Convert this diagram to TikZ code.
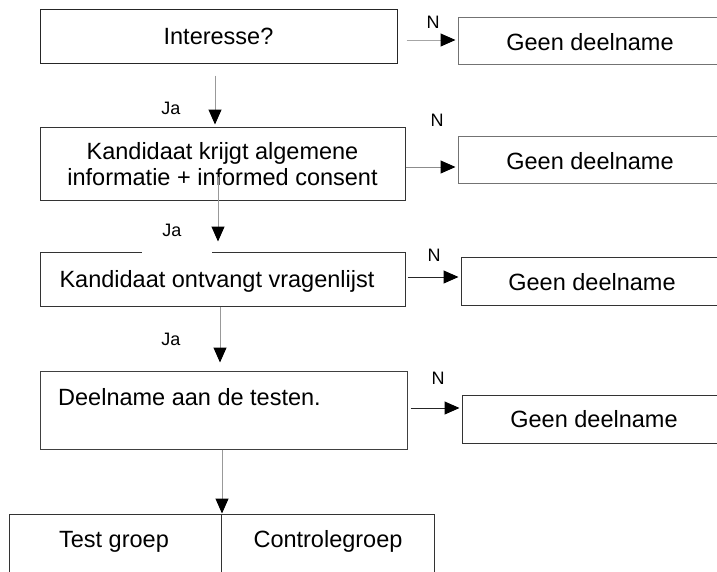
\documentclass[tikz,border=0pt]{standalone}
\usepackage{fontspec}
\setmainfont{Liberation Sans}
\usetikzlibrary{arrows.meta,positioning}
\begin{document}
\begin{tikzpicture}[x=1pt,y=-1pt,
  box/.style={draw=#1,line width=1pt,inner sep=0pt,font=\fontsize{23.5}{26}\selectfont,text depth=0pt},
  box/.default={black!80},
  txt/.style={inner sep=0pt,font=\fontsize{23.5}{26}\selectfont},
  lbl/.style={inner sep=0pt,font=\fontsize{18}{20}\selectfont},
  arr/.style={draw=#1,line width=1pt,-{Triangle[length=15pt,width=13pt,color=black]}},
  arr/.default={black!40}]
\useasboundingbox (0,0) rectangle (717,571);

% main column
\node[box={black!85},minimum width=357pt,minimum height=54pt] (b1) at (218.5,36) {Interesse?};
\node[box={black!80},minimum width=365pt,minimum height=73pt,align=center] (b2) at (222.5,163.5)
  {Kandidaat krijgt algemene\\informatie + informed consent};
\node[box={black!80},minimum width=365pt,minimum height=54pt] (b3) at (222.5,279) {};
\node[txt,anchor=base] at (217,287) {Kandidaat ontvangt vragenlijst};
\node[box={black!75},minimum width=367pt,minimum height=78pt] (b4) at (223.5,410) {};
\node[txt,anchor=base west] at (58,405) {Deelname aan de testen.};

% split box at the bottom
\node[box={black!80},minimum width=212pt,minimum height=106pt] (c1) at (115,567) {};
\node[box={black!80},minimum width=213pt,minimum height=106pt] (c2) at (327.5,567) {};
\node[txt,anchor=base] at (114,547) {Test groep};
\node[txt,anchor=base] at (328,547) {Controlegroep};

% side boxes, running past the right edge
\node[box={black!55},minimum width=300pt,minimum height=47pt] (g1) at (608,40.5) {};
\node[box={black!55},minimum width=300pt,minimum height=47pt] (g2) at (608,159.5) {};
\node[box={black!80},minimum width=300pt,minimum height=48pt] (g3) at (611,281) {};
\node[box={black!80},minimum width=300pt,minimum height=48pt] (g4) at (612,419) {};
\node[txt,anchor=base] at (590,50) {Geen deelname};
\node[txt,anchor=base] at (590,169) {Geen deelname};
\node[txt,anchor=base] at (592,290) {Geen deelname};
\node[txt,anchor=base] at (594,427) {Geen deelname};

% gap in the top border of the third box
\path (b3.north west) ++(102,0) coordinate (gapL) ++(70,0) coordinate (gapR);
\draw[white,line width=3pt] (gapL) -- (gapR);

% downward connectors
\draw[arr={black!40}] ([xshift=-3.5pt,yshift=-12pt]b1.south) -- ([xshift=-3.5pt,yshift=2pt]b1.south |- b2.north);
\draw[arr={black!40}] ([xshift=-4.5pt,yshift=24pt]b2.south) -- ([xshift=-4.5pt,yshift=10pt]b2.south |- b3.north);
\draw[arr={black!40}] ([xshift=-2.5pt]b3.south) -- ([xshift=-2.5pt,yshift=8pt]b3.south |- b4.north);
\draw[arr={black!40}] ([xshift=-1.5pt]b4.south) -- ([xshift=-1.5pt]b4.south |- c1.north);

% side connectors
\draw[arr={black!35}] ([xshift=9pt,yshift=-4pt]b1.east) -- ([xshift=-2pt,yshift=-4pt]b1.east -| g1.west);
\draw[arr={black!45}] ([yshift=-3.5pt]b2.east) -- ([xshift=-2pt,yshift=-3.5pt]b2.east -| g2.west);
\draw[arr={black!85}] ([xshift=2pt,yshift=2pt]b3.east) -- ([xshift=-2pt,yshift=2pt]b3.east -| g3.west);
\draw[arr={black!85}] ([xshift=3pt,yshift=2pt]b4.east) -- ([xshift=-2pt,yshift=2pt]b4.east -| g4.west);

% branch labels
\node[lbl] (n1) at (433,22) {N};
\node[lbl] (j1) at (171,108) {Ja};
\node[lbl] (n2) at (437,120) {N};
\node[lbl] (j2) at (172,230) {Ja};
\node[lbl] (n3) at (434,255) {N};
\node[lbl] (j3) at (171,339) {Ja};
\node[lbl] (n4) at (438,378) {N};
\end{tikzpicture}
\end{document}
